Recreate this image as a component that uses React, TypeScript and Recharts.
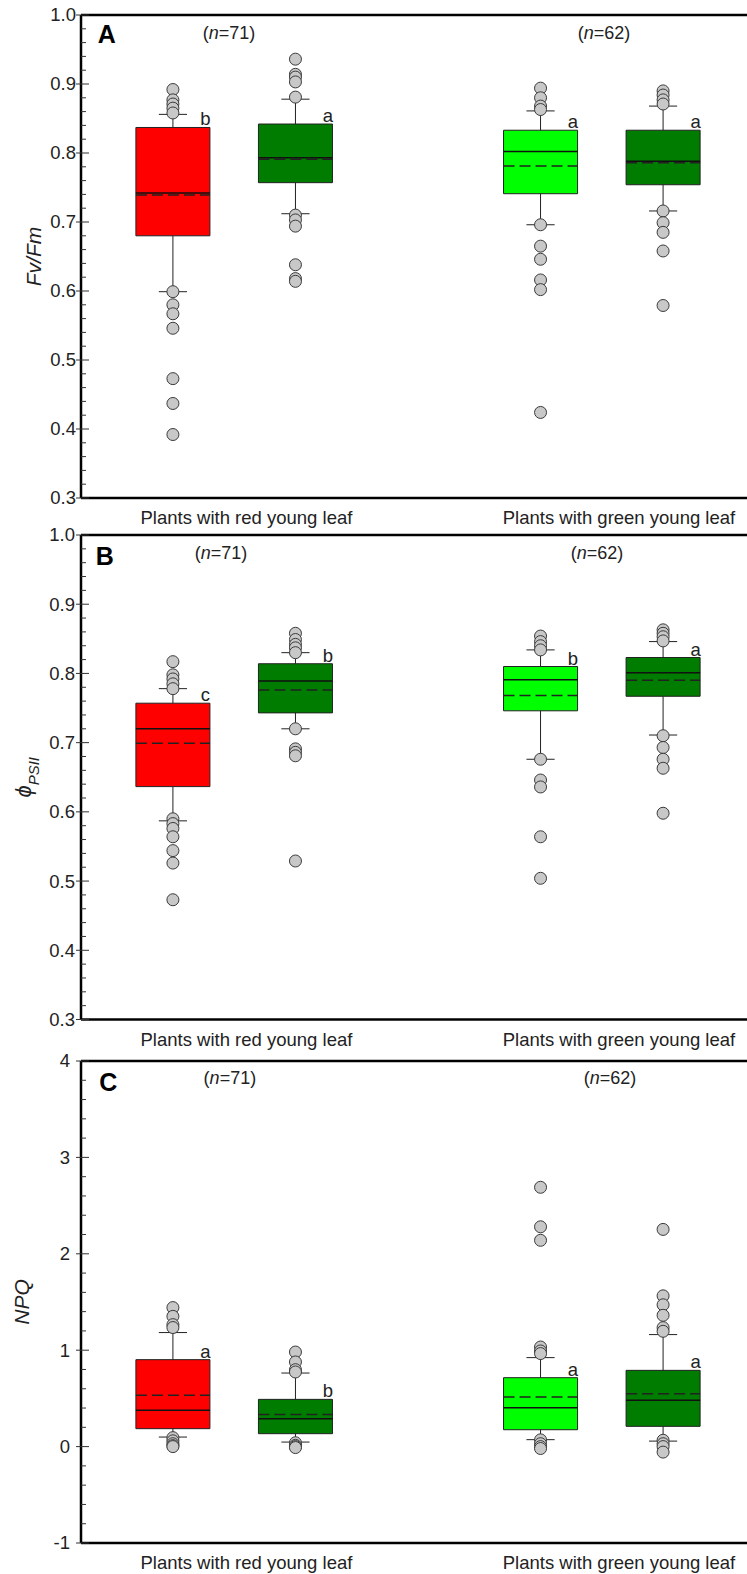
import { ReferenceArea, ReferenceLine, Scatter, ScatterChart, XAxis, YAxis } from "recharts";

const FONT = "'Liberation Sans', Arial, Helvetica, sans-serif";

// four boxes: red-young-leaf plants (young, mature), green-young-leaf plants (young, mature)
const boxPos = [1, 2, 4, 5];
const boxFill = ["#ff0000", "#007d00", "#00ff00", "#007d00"];
const groupLabels = ["Plants with red young leaf", "Plants with green young leaf"];
const groupLabelPos = [1.6, 4.64];
const groupN = ["71", "62"];

// A: Fv/Fm
const fvQ1 = [0.68, 0.757, 0.741, 0.754];
const fvMedian = [0.742, 0.793, 0.802, 0.788];
const fvMean = [0.739, 0.791, 0.781, 0.786];
const fvQ3 = [0.837, 0.842, 0.833, 0.833];
const fvLow = [0.599, 0.712, 0.696, 0.716];
const fvHigh = [0.856, 0.878, 0.861, 0.868];
const fvOutliers = [
  [0.892, 0.877, 0.871, 0.865, 0.858, 0.599, 0.58, 0.567, 0.546, 0.473, 0.437, 0.392],
  [0.936, 0.914, 0.91, 0.903, 0.881, 0.71, 0.703, 0.694, 0.638, 0.618, 0.614],
  [0.894, 0.88, 0.868, 0.863, 0.696, 0.665, 0.646, 0.616, 0.602, 0.424],
  [0.89, 0.884, 0.877, 0.871, 0.716, 0.699, 0.685, 0.658, 0.579],
];
const fvLetters = ["b", "a", "a", "a"];

// B: phi PSII
const phiQ1 = [0.6365, 0.743, 0.746, 0.767];
const phiMedian = [0.72, 0.789, 0.791, 0.801];
const phiMean = [0.699, 0.776, 0.768, 0.79];
const phiQ3 = [0.757, 0.814, 0.81, 0.823];
const phiLow = [0.587, 0.72, 0.676, 0.711];
const phiHigh = [0.778, 0.83, 0.834, 0.846];
const phiOutliers = [
  [0.817, 0.798, 0.792, 0.785, 0.778, 0.59, 0.583, 0.576, 0.564, 0.544, 0.526, 0.473],
  [0.858, 0.849, 0.842, 0.837, 0.83, 0.72, 0.691, 0.686, 0.681, 0.529],
  [0.854, 0.846, 0.84, 0.834, 0.676, 0.646, 0.636, 0.564, 0.504],
  [0.863, 0.858, 0.853, 0.847, 0.71, 0.693, 0.676, 0.663, 0.598],
];
const phiLetters = ["c", "b", "b", "a"];

// C: NPQ
const npqQ1 = [0.186, 0.134, 0.175, 0.21];
const npqMedian = [0.376, 0.29, 0.404, 0.48];
const npqMean = [0.532, 0.332, 0.514, 0.549];
const npqQ3 = [0.902, 0.49, 0.715, 0.791];
const npqLow = [0.099, 0.047, 0.072, 0.057];
const npqHigh = [1.183, 0.763, 0.923, 1.162];
const npqOutliers = [
  [1.442, 1.351, 1.265, 1.235, 0.093, 0.06, 0.03, 0.01, 0.0],
  [0.981, 0.878, 0.798, 0.774, 0.04, 0.013, 0.0, -0.01],
  [2.69, 2.28, 2.14, 1.033, 0.992, 0.965, 0.07, 0.03, 0.0, -0.02],
  [2.253, 1.564, 1.471, 1.362, 1.234, 1.196, 0.066, 0.03, 0.0, -0.057],
];
const npqLetters = ["a", "b", "a", "a"];

const ticks01 = [0.3, 0.4, 0.5, 0.6, 0.7, 0.8, 0.9, 1.0];
const ticksNpq = [-1, 0, 1, 2, 3, 4];

const HALF = 0.302;
const CAP = 0.115;

function withMinor(majors: number[]) {
  const out: number[] = [];
  majors.forEach((m, i) => {
    out.push(m);
    if (i < majors.length - 1) {
      const step = (majors[i + 1] - m) / 5;
      for (let k = 1; k < 5; k++) out.push(+(m + step * k).toFixed(4));
    }
  });
  return out;
}

function GroupTick({ x, y, payload }: any) {
  const i = groupLabelPos.indexOf(payload.value);
  return (
    <text x={x} y={y + 20} dy="0.35em" textAnchor="middle" fontSize={18.5} fontFamily={FONT} fill="#222">
      {groupLabels[i]}
    </text>
  );
}

type PanelProps = {
  top: number;
  plotH: number;
  domain: [number, number];
  majors: number[];
  digits: number;
  labelGap: number;
  q1: number[];
  median: number[];
  mean: number[];
  q3: number[];
  low: number[];
  high: number[];
  outliers: number[][];
  letters: string[];
  tag: string;
  tagPos: [number, number];
  nX: number[];
  nY: number;
  title: (cx: number, cy: number) => any;
  titleX: number;
};

function Panel(p: PanelProps) {
  const ticks = withMinor(p.majors);
  const yTick = ({ x, y, payload }: any) => {
    const v = payload.value;
    const major = p.majors.some((m) => Math.abs(m - v) < 1e-6);
    return (
      <g>
        <line x1={major ? x - 5 : x} x2={x + (major ? 8 : 5)} y1={y} y2={y} stroke="#333" strokeWidth={1} />
        {major && (
          <text x={x - p.labelGap} y={y} dy="0.35em" textAnchor="end" fontSize={18.5} fontFamily={FONT} fill="#222">
            {v.toFixed(p.digits)}
          </text>
        )}
      </g>
    );
  };
  const outlierData = p.outliers.flatMap((arr, i) => arr.map((v) => ({ x: boxPos[i], y: v })));
  const letterData = p.letters.map((t, i) => ({ x: boxPos[i] + 0.265, y: p.q3[i], t }));
  const nData = p.nX.map((x, i) => ({ x, y: p.nY, n: groupN[i] }));
  const tagData = [{ x: p.tagPos[0], y: p.tagPos[1], t: p.tag }];

  return (
    <div style={{ position: "absolute", left: 0, top: p.top }}>
      <ScatterChart width={756} height={15 + p.plotH + 40} margin={{ top: 15, right: 1, bottom: 0, left: 0 }}>
        <XAxis
          type="number"
          dataKey="x"
          domain={[0.25, 5.75]}
          ticks={groupLabelPos}
          tick={GroupTick}
          interval={0}
          height={40}
          tickLine={false}
          tickSize={0}
          tickMargin={0}
          axisLine={{ stroke: "#000", strokeWidth: 2.5 }}
          allowDataOverflow
        />
        <YAxis
          type="number"
          dataKey="y"
          domain={p.domain}
          ticks={ticks}
          tick={yTick}
          interval={0}
          width={81}
          tickLine={false}
          tickSize={0}
          tickMargin={0}
          axisLine={{ stroke: "#000", strokeWidth: 2.5 }}
          allowDataOverflow
          label={(lp: any) => {
            const vb = lp.viewBox || {};
            return p.title(vb.x + p.titleX, vb.y + vb.height / 2);
          }}
        />
        <ReferenceLine y={p.domain[1]} stroke="#000" strokeWidth={2.5} />
        {boxPos.map((x, i) => (
          <ReferenceLine key={`wu${i}`} segment={[{ x, y: p.q3[i] }, { x, y: p.high[i] }]} stroke="#222" strokeWidth={1} />
        ))}
        {boxPos.map((x, i) => (
          <ReferenceLine key={`wl${i}`} segment={[{ x, y: p.q1[i] }, { x, y: p.low[i] }]} stroke="#222" strokeWidth={1} />
        ))}
        {boxPos.map((x, i) => (
          <ReferenceArea
            key={`b${i}`}
            x1={x - HALF}
            x2={x + HALF}
            y1={p.q1[i]}
            y2={p.q3[i]}
            fill={boxFill[i]}
            fillOpacity={1}
            stroke="#222"
            strokeWidth={1}
          />
        ))}
        {boxPos.map((x, i) => (
          <ReferenceLine key={`md${i}`} segment={[{ x: x - HALF, y: p.median[i] }, { x: x + HALF, y: p.median[i] }]} stroke="#111" strokeWidth={1.5} />
        ))}
        {boxPos.map((x, i) => (
          <ReferenceLine
            key={`mn${i}`}
            segment={[{ x: x - HALF, y: p.mean[i] }, { x: x + HALF, y: p.mean[i] }]}
            stroke="#222"
            strokeWidth={1.5}
            strokeDasharray="11 5"
          />
        ))}
        <Scatter
          data={outlierData}
          isAnimationActive={false}
          shape={(s: any) => <circle cx={s.cx} cy={s.cy} r={6} fill="#c8c8c8" stroke="#3a3a3a" strokeWidth={1} />}
        />
        {boxPos.map((x, i) => (
          <ReferenceLine key={`cu${i}`} segment={[{ x: x - CAP, y: p.high[i] }, { x: x + CAP, y: p.high[i] }]} stroke="#222" strokeWidth={1} />
        ))}
        {boxPos.map((x, i) => (
          <ReferenceLine key={`cl${i}`} segment={[{ x: x - CAP, y: p.low[i] }, { x: x + CAP, y: p.low[i] }]} stroke="#222" strokeWidth={1} />
        ))}
        <Scatter
          data={letterData}
          isAnimationActive={false}
          shape={(s: any) => (
            <text x={s.cx} y={s.cy - 2} textAnchor="middle" fontSize={18.5} fontFamily={FONT} fill="#222">
              {s.payload.t}
            </text>
          )}
        />
        <Scatter
          data={nData}
          isAnimationActive={false}
          shape={(s: any) => (
            <text x={s.cx} y={s.cy} dy="0.35em" textAnchor="middle" fontSize={18} fontFamily={FONT} fill="#222">
              (<tspan fontStyle="italic">n</tspan>={s.payload.n})
            </text>
          )}
        />
        <Scatter
          data={tagData}
          isAnimationActive={false}
          shape={(s: any) => (
            <text x={s.cx} y={s.cy} dy="0.35em" textAnchor="middle" fontSize={25} fontWeight="bold" fontFamily={FONT} fill="#000">
              {s.payload.t}
            </text>
          )}
        />
      </ScatterChart>
    </div>
  );
}

const rot = (cx: number, cy: number) => `rotate(-90 ${cx} ${cy})`;

export default function App() {
  return (
    <div style={{ position: "absolute", left: 0, top: 0, width: 747, height: 1574, overflow: "hidden", background: "#fff" }}>
      <Panel
        top={0}
        plotH={483}
        domain={[0.3, 1.0]}
        majors={ticks01}
        digits={1}
        labelGap={5}
        q1={fvQ1}
        median={fvMedian}
        mean={fvMean}
        q3={fvQ3}
        low={fvLow}
        high={fvHigh}
        outliers={fvOutliers}
        letters={fvLetters}
        tag="A"
        tagPos={[0.461, 0.972]}
        nX={[1.457, 4.518]}
        nY={0.974}
        titleX={41}
        title={(cx, cy) => (
          <text x={cx} y={cy} transform={rot(cx, cy)} textAnchor="middle" fontSize={21} fontStyle="italic" fontFamily={FONT} fill="#222">
            Fv/Fm
          </text>
        )}
      />
      <Panel
        top={519.5}
        plotH={484.5}
        domain={[0.3, 1.0]}
        majors={ticks01}
        digits={1}
        labelGap={6}
        q1={phiQ1}
        median={phiMedian}
        mean={phiMean}
        q3={phiQ3}
        low={phiLow}
        high={phiHigh}
        outliers={phiOutliers}
        letters={phiLetters}
        tag="B"
        tagPos={[0.445, 0.969]}
        nX={[1.392, 4.461]}
        nY={0.974}
        titleX={31}
        title={(cx, cy) => (
          <text x={cx} y={cy} transform={rot(cx, cy)} textAnchor="middle" fontFamily={FONT} fill="#222" fontStyle="italic">
            <tspan fontSize={22}>ϕ</tspan>
            <tspan fontSize={15} dy={8}>PSII</tspan>
          </text>
        )}
      />
      <Panel
        top={1046}
        plotH={482}
        domain={[-1, 4]}
        majors={ticksNpq}
        digits={0}
        labelGap={11}
        q1={npqQ1}
        median={npqMedian}
        mean={npqMean}
        q3={npqQ3}
        low={npqLow}
        high={npqHigh}
        outliers={npqOutliers}
        letters={npqLetters}
        tag="C"
        tagPos={[0.473, 3.782]}
        nX={[1.465, 4.567]}
        nY={3.823}
        titleX={29}
        title={(cx, cy) => (
          <text x={cx} y={cy} transform={rot(cx, cy)} textAnchor="middle" fontSize={21} fontStyle="italic" fontFamily={FONT} fill="#222">
            NPQ
          </text>
        )}
      />
    </div>
  );
}
